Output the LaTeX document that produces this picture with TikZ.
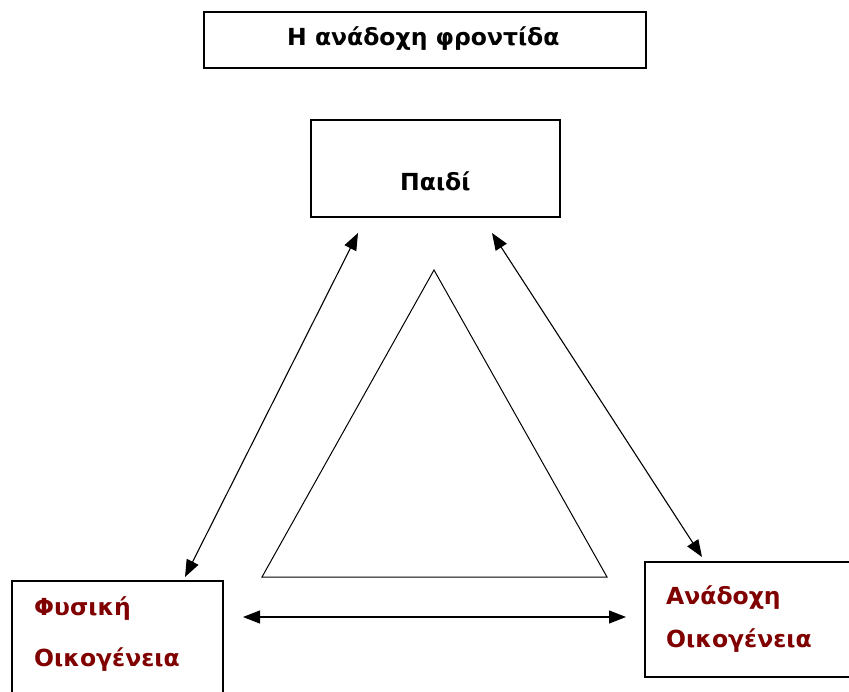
\documentclass[tikz,border=0pt]{standalone}
\usepackage{fontspec}
\setmainfont{DejaVu Sans}
\usetikzlibrary{arrows.meta}
\definecolor{darkred}{RGB}{128,0,0}

\begin{document}
\begin{tikzpicture}[x=1pt, y=-1pt,
  box/.style={draw, line width=1.6pt},
  lbl/.style={anchor=base west, inner sep=0pt, font=\fontsize{23.5}{28}\selectfont\bfseries},
  link/.style={line width=1.1pt, {Triangle[length=17pt,width=13pt]}-{Triangle[length=17pt,width=13pt]}}]
\useasboundingbox (0,0) rectangle (849,692);
\clip (0,0) rectangle (849,692);

% boxes
\draw [box] (204,12) rectangle (646,68);
\draw [box] (311,120) rectangle (560,217);
\draw [box] (12,581) rectangle (223,710);
\draw [box] (645,562) rectangle (860,677);

% texts
\node (title) [lbl] at (287,46) {Η ανάδοχη φροντίδα};
\node (child) [lbl] at (400,191) {Παιδί};
\node (bio1) [lbl, text=darkred] at (34,615) {Φυσική};
\node (bio2) [lbl, text=darkred] at (34,666) {Οικογένεια};
\node (fost1) [lbl, text=darkred] at (666,604) {Ανάδοχη};
\node (fost2) [lbl, text=darkred] at (666,647) {Οικογένεια};

% triangle
\draw [line width=1pt] (434,270) -- (607,577) -- (262,577) -- cycle;

% arrows
\coordinate (childL) at (358,233);
\coordinate (childR) at (492,233);
\coordinate (bioT) at (185,577);
\coordinate (fostT) at (702,557);
\coordinate (bioR) at (243,617);
\coordinate (fostL) at (626,617);
\draw [link] (bioT) -- (childL);
\draw [link] (childR) -- (fostT);
\draw [link] (bioR) -- (fostL);
\end{tikzpicture}
\end{document}
